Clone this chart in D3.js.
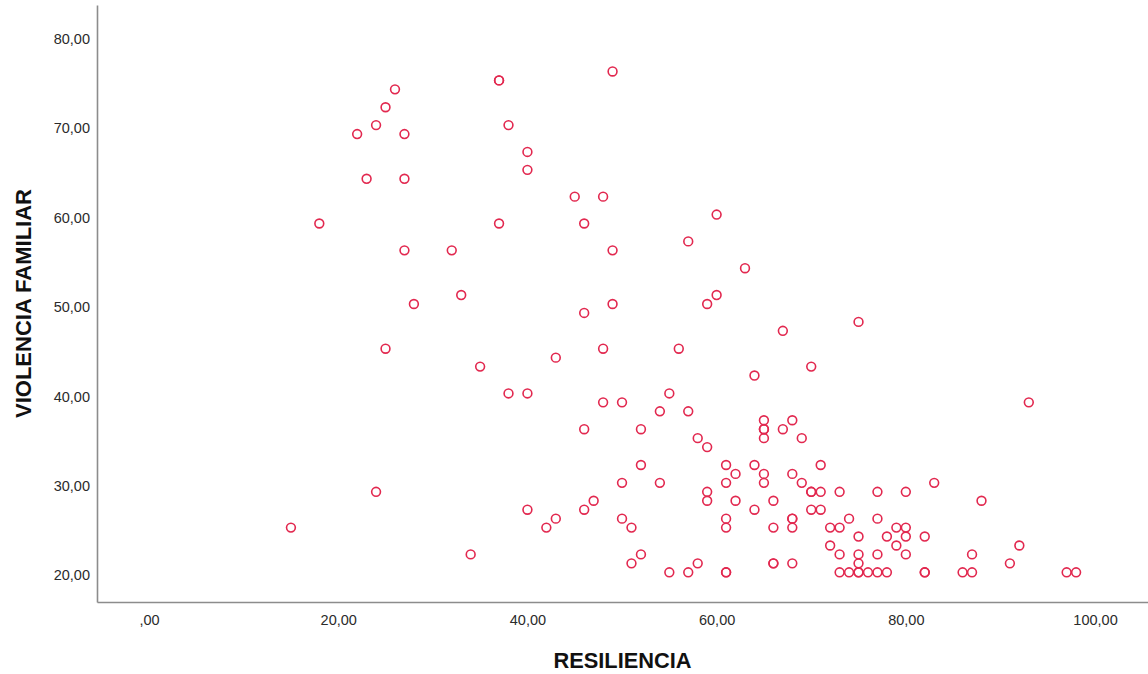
<!DOCTYPE html>
<html>
<head>
<meta charset="utf-8">
<script src="https://cdn.jsdelivr.net/npm/d3@7"></script>
<style>
  html, body { margin: 0; padding: 0; background: #fff; }
  svg { display: block; }
</style>
</head>
<body>
<svg id="chart" width="1148" height="674"></svg>
<script>
// ---- data ----
const resiliencia = [
  26,25,24,22,27,23,27,18,27,32,28,33,37,37,38,40,40,37,
  49,45,48,46,49,60,57,63,60,59,49,46,67,
  75,
  25,35,38,40,43,24,15,40,43,42,34,
  48,56,64,70,55,48,50,54,57,65,65,65,65,68,67,69,46,52,58,59,52,61,64,71,62,65,68,
  50,54,61,65,69,59,70,70,71,73,47,59,62,66,46,64,70,71,50,51,61,61,68,68,68,66,72,73,
  72,73,52,51,58,66,66,68,55,57,61,61,73,
  93,83,77,80,88,74,77,79,80,75,78,80,82,79,92,75,77,80,87,75,91,
  74,75,75,76,77,78,82,82,86,87,97,98
];
const violencia = [
  74,72,70,69,69,64,64,59,56,56,50,51,75,75,70,67,65,59,
  76,62,62,59,56,60,57,54,51,50,50,49,47,
  48,
  45,43,40,40,44,29,25,27,26,25,22,
  45,45,42,43,40,39,39,38,38,37,36,36,35,37,36,35,36,36,35,34,32,32,32,32,31,31,31,
  30,30,30,30,30,29,29,29,29,29,28,28,28,28,27,27,27,27,26,25,26,25,26,26,25,25,25,25,
  23,22,22,21,21,21,21,21,20,20,20,20,20,
  39,30,29,29,28,26,26,25,25,24,24,24,24,23,23,22,22,22,22,21,21,
  20,20,20,20,20,20,20,20,20,20,20,20
];
const xTickValues = [0, 20, 40, 60, 80, 100];
const xTickLabels = [",00", "20,00", "40,00", "60,00", "80,00", "100,00"];
const yTickValues = [20, 30, 40, 50, 60, 70, 80];
const yTickLabels = ["20,00", "30,00", "40,00", "50,00", "60,00", "70,00", "80,00"];
const xTitle = "RESILIENCIA";
const yTitle = "VIOLENCIA FAMILIAR";

// ---- layout ----
const svg = d3.select("#chart");
const mLeft = 97, mRight = 1148, mTop = 5, mBottom = 602;

const x = d3.scaleLinear().domain([-5.5, 105.6]).range([mLeft, mRight]);
const y = d3.scaleLinear().domain([16.68, 83.43]).range([mBottom, mTop]);

const axisColor = "#8c8c8c";
const tickFont = "'Liberation Sans', Arial, sans-serif";

// x axis
const gx = svg.append("g")
  .attr("transform", `translate(0,${mBottom})`)
  .call(d3.axisBottom(x).tickValues(xTickValues)
    .tickFormat((d, i) => xTickLabels[i]).tickSize(0).tickSizeOuter(0));
gx.select(".domain").attr("stroke", axisColor).attr("stroke-width", 1.6);
gx.selectAll("text")
  .attr("y", 22.5).attr("dy", 0)
  .attr("fill", "#2b2b2b")
  .style("font-family", tickFont).style("font-size", "14.5px");

// y axis
const gy = svg.append("g")
  .attr("transform", `translate(${mLeft},0)`)
  .call(d3.axisLeft(y).tickValues(yTickValues)
    .tickFormat((d, i) => yTickLabels[i]).tickSize(0).tickSizeOuter(0));
gy.select(".domain").attr("stroke", axisColor).attr("stroke-width", 1.6);
gy.selectAll("text")
  .attr("x", -7).attr("y", 2.5).attr("dy", "0.35em")
  .attr("fill", "#2b2b2b")
  .style("font-family", tickFont).style("font-size", "14.5px");

// axis titles
svg.append("text")
  .attr("x", (mLeft + mRight) / 2).attr("y", 668)
  .attr("text-anchor", "middle")
  .style("font-family", "'Liberation Sans', Arial, sans-serif")
  .style("font-weight", "bold").style("font-size", "21.8px")
  .attr("fill", "#111")
  .text(xTitle);

svg.append("text")
  .attr("transform", `translate(30.5,${(mTop + mBottom) / 2}) rotate(-90)`)
  .attr("text-anchor", "middle")
  .style("font-family", "'Liberation Sans', Arial, sans-serif")
  .style("font-weight", "bold").style("font-size", "22px")
  .attr("fill", "#111")
  .text(yTitle);

// points
const pts = resiliencia.map((r, i) => ({ r, v: violencia[i] }));
svg.append("g")
  .selectAll("circle")
  .data(pts)
  .join("circle")
  .attr("cx", d => x(d.r))
  .attr("cy", d => y(d.v))
  .attr("r", 4.4)
  .attr("fill", "none")
  .attr("stroke", "#e2284f")
  .attr("stroke-width", 1.6);
</script>
</body>
</html>
